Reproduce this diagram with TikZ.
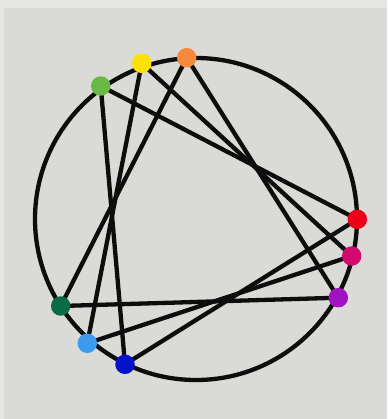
\documentclass[tikz,border=0pt]{standalone}
\usetikzlibrary{backgrounds}
\begin{document}
\begin{tikzpicture}[x=1pt,y=-1pt,
  edge/.style={line width=4.3pt,black!95},
  dot/.style={circle,inner sep=0pt,minimum size=19.5pt,draw=none}]
\definecolor{bg}{HTML}{DADBD7}
\definecolor{bgedge}{HTML}{E6E7E4}
\definecolor{cYellow}{HTML}{FBE200}
\definecolor{cOrange}{HTML}{F7893C}
\definecolor{cGreen}{HTML}{6AB845}
\definecolor{cRed}{HTML}{EE0018}
\definecolor{cMagenta}{HTML}{D20A6E}
\definecolor{cPurple}{HTML}{A012C2}
\definecolor{cDkGreen}{HTML}{086C48}
\definecolor{cLtBlue}{HTML}{3C9BF0}
\definecolor{cBlue}{HTML}{0612C8}
\useasboundingbox (0,0) rectangle (387,419);
\node[dot,fill=cYellow] (y) at (141.7,63.3) {};
\node[dot,fill=cOrange] (o) at (186.7,57.7) {};
\node[dot,fill=cGreen] (g) at (100.7,86) {};
\node[dot,fill=cRed] (r) at (357.3,219.3) {};
\node[dot,fill=cMagenta] (m) at (351.7,256) {};
\node[dot,fill=cPurple] (p) at (338.3,297.7) {};
\node[dot,fill=cDkGreen] (dg) at (60.7,306) {};
\node[dot,fill=cLtBlue] (lb) at (87.3,343.3) {};
\node[dot,fill=cBlue] (b) at (125,364.3) {};
\begin{scope}[on background layer]
\fill[bgedge] (0,0) rectangle (387,419);
\fill[bg] (4,8) rectangle (387,419);
\draw[line width=4.3pt,black!95] (196,219) circle[radius=161pt];
\draw[edge] (g.center) -- (r.center);
\draw[edge] (g.center) -- (b.center);
\draw[edge] (y.center) -- (lb.center);
\draw[edge] (y.center) -- (m.center);
\draw[edge] (o.center) -- (dg.center);
\draw[edge] (o.center) -- (p.center);
\draw[edge] (dg.center) -- (p.center);
\draw[edge] (lb.center) -- (m.center);
\draw[edge] (b.center) -- (r.center);
\end{scope}
\end{tikzpicture}
\end{document}
